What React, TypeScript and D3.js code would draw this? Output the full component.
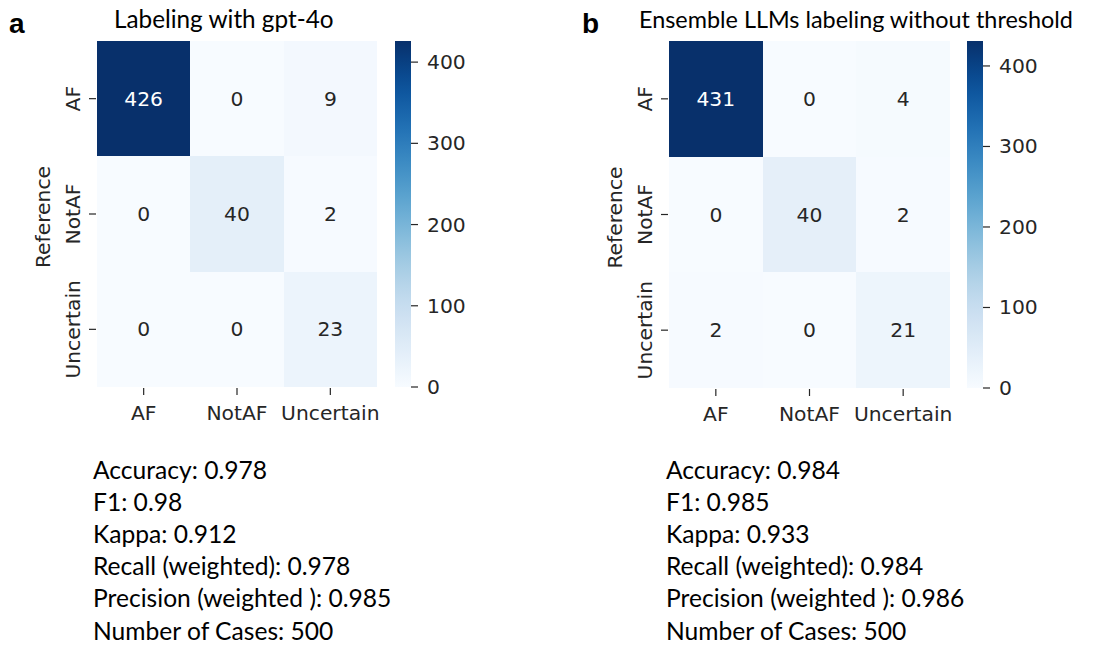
import React from "react";
import * as d3 from "d3";

const categories = ["AF", "NotAF", "Uncertain"];
const gpt4oMatrix = [
  [426, 0, 9],
  [0, 40, 2],
  [0, 0, 23],
];
const ensembleMatrix = [
  [431, 0, 4],
  [0, 40, 2],
  [2, 0, 21],
];
const colorbarTicks = [0, 100, 200, 300, 400];
const gpt4oMetrics = [
  "Accuracy: 0.978",
  "F1: 0.98",
  "Kappa: 0.912",
  "Recall (weighted): 0.978",
  "Precision (weighted ): 0.985",
  "Number of Cases: 500",
];
const ensembleMetrics = [
  "Accuracy: 0.984",
  "F1: 0.985",
  "Kappa: 0.933",
  "Recall (weighted): 0.984",
  "Precision (weighted ): 0.986",
  "Number of Cases: 500",
];

const TICK_FONT = "'DejaVu Sans', sans-serif";
const TEXT_FONT = "Lato, 'Open Sans', sans-serif";
const TXT = "#262626";
const TICK_SIZE = 20.3;

type PanelProps = {
  id: string;
  letter: string;
  letterX: number;
  title: string;
  titleX: number;
  titleSize: number;
  matrix: number[][];
  left: number;
  right: number;
  top: number;
  bottom: number;
  cbLeft: number;
  metrics: string[];
  metricsX: number;
};

function Panel(p: PanelProps) {
  const x = d3.scaleBand<string>().domain(categories).range([p.left, p.right]);
  const y = d3.scaleBand<string>().domain(categories).range([p.top, p.bottom]);
  const vmax = d3.max(p.matrix.flat()) as number;
  const color = d3.scaleSequential(d3.interpolateBlues).domain([0, vmax]);
  const cb = d3.scaleLinear().domain([0, vmax]).range([p.bottom, p.top]);
  const cbW = 16;
  const stops = d3.range(0, 1.0001, 0.05);
  const gid = `grad-${p.id}`;
  return (
    <g>
      <defs>
        <linearGradient id={gid} x1="0" y1="1" x2="0" y2="0">
          {stops.map((t) => (
            <stop key={t} offset={t} stopColor={d3.interpolateBlues(t)} />
          ))}
        </linearGradient>
      </defs>
      <text x={p.letterX} y={33} fontFamily="'Liberation Sans', Arial, sans-serif" fontWeight="bold" fontSize={28} fill="#000">
        {p.letter}
      </text>
      <text x={p.titleX} y={28} fontFamily={TEXT_FONT} fontSize={p.titleSize} fill="#000">
        {p.title}
      </text>
      {p.matrix.map((row, i) =>
        row.map((v, j) => {
          const c = color(v);
          const lum = d3.hsl(c).l;
          return (
            <g key={`${i}-${j}`}>
              <rect
                x={x(categories[j])}
                y={y(categories[i])}
                width={x.bandwidth()}
                height={y.bandwidth()}
                fill={c}
                shapeRendering="crispEdges"
              />
              <text
                x={(x(categories[j]) as number) + x.bandwidth() / 2}
                y={(y(categories[i]) as number) + y.bandwidth() / 2}
                textAnchor="middle"
                dominantBaseline="central"
                fontFamily={TICK_FONT}
                fontSize={TICK_SIZE}
                fill={lum < 0.5 ? "#ffffff" : TXT}
              >
                {v}
              </text>
            </g>
          );
        })
      )}
      {categories.map((c) => {
        const cx = (x(c) as number) + x.bandwidth() / 2;
        return (
          <g key={`xt-${c}`}>
            <line x1={cx} x2={cx} y1={p.bottom + 1} y2={p.bottom + 8} stroke={TXT} strokeWidth={1.2} />
            <text x={cx} y={p.bottom + 33} textAnchor="middle" fontFamily={TICK_FONT} fontSize={TICK_SIZE} fill={TXT}>
              {c}
            </text>
          </g>
        );
      })}
      {categories.map((c) => {
        const cy = (y(c) as number) + y.bandwidth() / 2;
        return (
          <g key={`yt-${c}`}>
            <line x1={p.left - 8} x2={p.left - 1} y1={cy} y2={cy} stroke={TXT} strokeWidth={1.2} />
            <text
              transform={`translate(${p.left - 17},${cy}) rotate(-90)`}
              textAnchor="middle"
              fontFamily={TICK_FONT}
              fontSize={TICK_SIZE}
              fill={TXT}
            >
              {c}
            </text>
          </g>
        );
      })}
      <text
        transform={`translate(${p.left - 47},${(p.top + p.bottom) / 2 + 3}) rotate(-90)`}
        textAnchor="middle"
        fontFamily={TICK_FONT}
        fontSize={TICK_SIZE}
        fill={TXT}
      >
        Reference
      </text>
      <rect x={p.cbLeft} y={p.top} width={cbW} height={p.bottom - p.top} fill={`url(#${gid})`} />
      {colorbarTicks.map((t) => (
        <g key={`cb-${t}`}>
          <line x1={p.cbLeft + cbW} x2={p.cbLeft + cbW + 7} y1={cb(t)} y2={cb(t)} stroke={TXT} strokeWidth={1.2} />
          <text
            x={p.cbLeft + cbW + 16}
            y={cb(t)}
            dominantBaseline="central"
            fontFamily={TICK_FONT}
            fontSize={TICK_SIZE}
            fill={TXT}
          >
            {t}
          </text>
        </g>
      ))}
      {p.metrics.map((m, i) => (
        <text key={m} x={p.metricsX} y={479 + i * 32.1} fontFamily={TEXT_FONT} fontSize={24.6} fill="#000">
          {m}
        </text>
      ))}
    </g>
  );
}

export default function App() {
  return (
    <svg
      width={1109}
      height={648}
      style={{ position: "absolute", left: 0, top: 0, background: "#fff" }}
    >
      <rect width={1109} height={648} fill="#fff" />
      <Panel
        id="a"
        letter="a"
        letterX={9}
        title="Labeling with gpt-4o"
        titleX={114}
        titleSize={24.3}
        matrix={gpt4oMatrix}
        left={97}
        right={377}
        top={41}
        bottom={387}
        cbLeft={395}
        metrics={gpt4oMetrics}
        metricsX={93}
      />
      <Panel
        id="b"
        letter="b"
        letterX={582}
        title="Ensemble LLMs labeling without threshold"
        titleX={639}
        titleSize={23.4}
        matrix={ensembleMatrix}
        left={669}
        right={950}
        top={41}
        bottom={388}
        cbLeft={967}
        metrics={ensembleMetrics}
        metricsX={666}
      />
    </svg>
  );
}
